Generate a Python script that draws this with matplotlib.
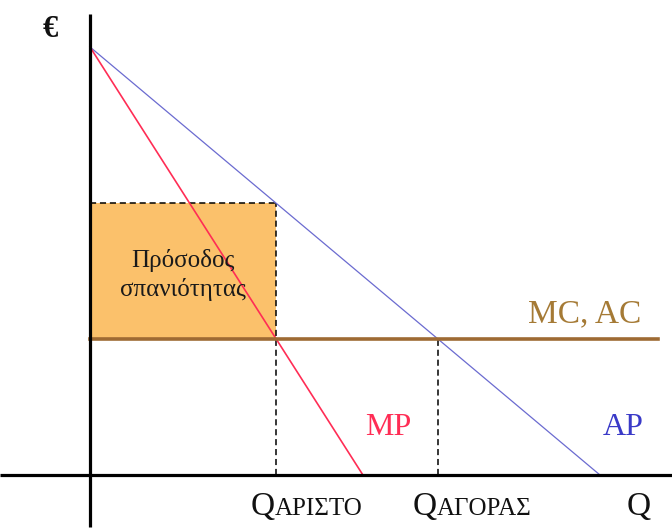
import matplotlib
matplotlib.use("Agg")
import matplotlib.pyplot as plt

# Model parameters (price in €, quantity in arbitrary units)
price_intercept = 10.0     # common intercept of AP and MP
ap_zero = 9.96             # quantity where AP reaches zero
mp_zero = 5.33             # quantity where MP reaches zero
mc_level = 3.18            # constant MC = AC

# Derived quantities
q_opt = mp_zero * (1 - mc_level / price_intercept)      # MP = MC
q_market = ap_zero * (1 - mc_level / price_intercept)   # AP = AC
rent_top = price_intercept * (1 - q_opt / ap_zero)      # AP at q_opt

box_label = "Πρόσοδος\nσπανιότητας"
sub_opt = "ΑΡΙΣΤΟ"
sub_market = "ΑΓΟΡΑΣ"

plt.rcParams['font.family'] = ['Liberation Serif', 'DejaVu Serif']

fig = plt.figure(figsize=(6.72, 5.29), dpi=100)
ax = fig.add_axes([0, 0, 1, 1])
ax.set_xlim(-1.758, 11.367)
ax.set_ylim(-1.262, 11.098)
ax.axis('off')

col_ap = '#6b6bd0'
col_mp = '#ff2d55'
col_mc = '#9e6a33'
col_fill = '#fbc16b'

# scarcity rent rectangle
ax.fill_between([0, q_opt], [mc_level, mc_level], [rent_top, rent_top],
                color=col_fill, lw=0, zorder=1)
dash = dict(color='black', lw=1.1, ls=(0, (4, 2.5)), zorder=2)
ax.plot([0, q_opt], [rent_top, rent_top], **dash)
ax.plot([q_opt, q_opt], [0, rent_top], **dash)
ax.plot([q_market, q_market], [0, mc_level], **dash)

# curves
ax.plot([0, ap_zero], [price_intercept, 0], color=col_ap, lw=0.9, zorder=3)
ax.plot([0, mp_zero], [price_intercept, 0], color=col_mp, lw=1.2, zorder=3)
ax.plot([0, 11.09], [mc_level, mc_level], color=col_mc, lw=2.6, zorder=3)

# axes
ax.plot([0, 0], [-1.215, 10.77], color='black', lw=2.3, zorder=4,
        solid_capstyle='butt')
ax.plot([-1.758, 11.367], [0, 0], color='black', lw=2.3, zorder=4,
        solid_capstyle='butt')

# labels
ax.text(-0.78, 10.40, "€", fontsize=22, ha='center', va='center',
        color='#111111', fontweight='bold')
ax.text(9.67, 3.76, "MC, AC", fontsize=24, ha='center', va='center',
        color='#a57a35')
ax.text(5.82, 1.12, "MP", fontsize=23, ha='center', va='center',
        color=col_mp)
ax.text(10.41, 1.10, "AP", fontsize=23, ha='center', va='center',
        color='#3a3ac8')
ax.text(1.82, 4.68, box_label, fontsize=18, ha='center', va='center',
        color='#1a1a1a', linespacing=1.35, zorder=5)

qy = -0.935
for qx, sub in [(q_opt, sub_opt), (q_market, sub_market)]:
    ax.text(qx - 0.03, qy, "Q", fontsize=24, ha='right', va='baseline',
            color='#111111')
    ax.text(qx - 0.03, qy, sub, fontsize=18, ha='left', va='baseline',
            color='#111111')
ax.text(10.72, qy, "Q", fontsize=24, ha='center', va='baseline',
        color='#111111')

fig.savefig("out.png", dpi=100)
